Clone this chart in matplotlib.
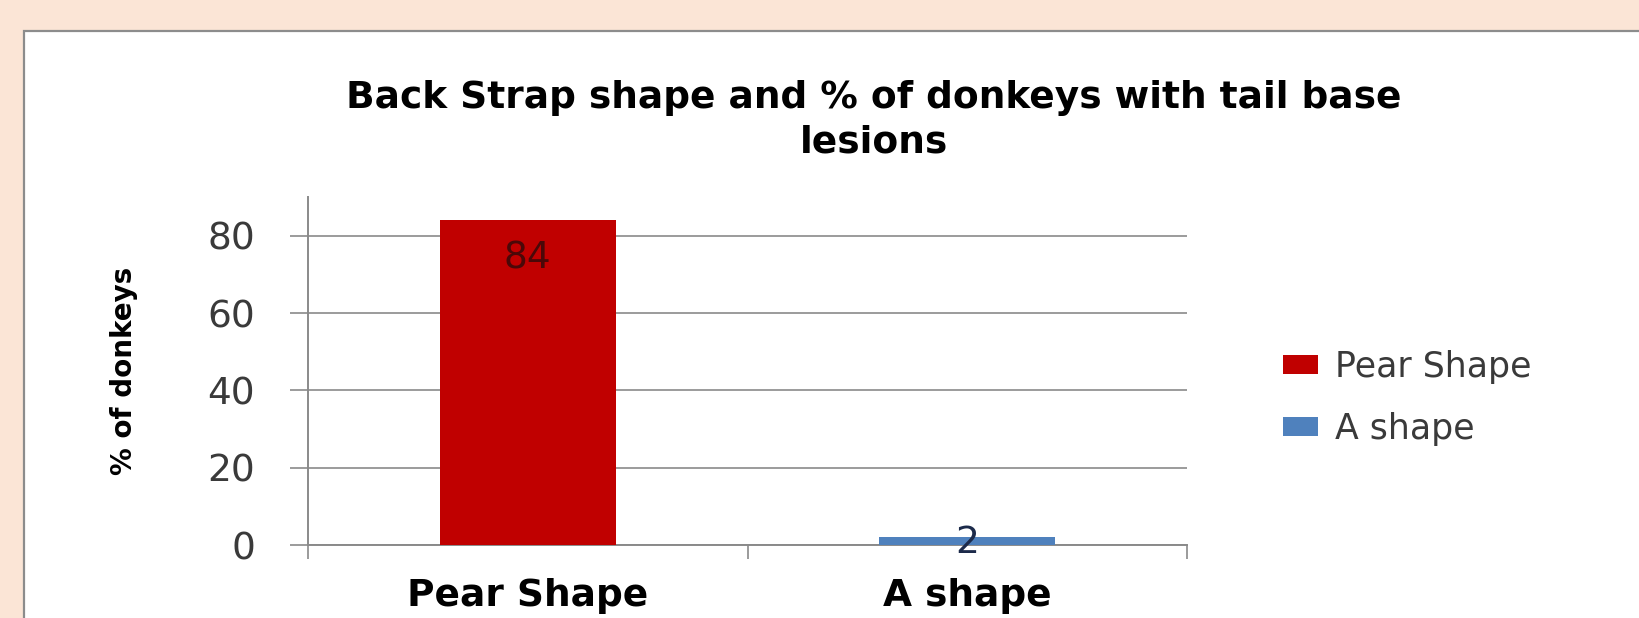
import numpy as np
import matplotlib
matplotlib.use("Agg")
import matplotlib.pyplot as plt
from matplotlib.patches import Rectangle

# data
categories = ["Pear Shape", "A shape"]
values = [84, 2]
bar_colors = ["#C00000", "#4F81BD"]
label_colors = ["#4a0808", "#1c2a4a"]
yticks = [0, 20, 40, 60, 80]

plt.rcParams['font.family'] = ['DejaVu Sans']

fig = plt.figure(figsize=(16.4, 6.18), dpi=100)
fig.patch.set_facecolor("#FBE5D6")

# white chart panel with grey frame (runs off right and bottom edges)
panel = Rectangle((24 / 1640, -0.1), 1.2, 1.1 - 31 / 618, transform=fig.transFigure,
                  facecolor="white", edgecolor="#8c8c8c", lw=1.6, zorder=-5)
fig.patches.append(panel)

ax = fig.add_axes([308 / 1640, 1 - 545 / 618, (1187 - 308) / 1640, (545 - 197) / 618])
ax.set_facecolor("none")
ax.set_zorder(2)

x = np.arange(len(categories))
bars = ax.bar(x, values, width=0.4, color=bar_colors, label=categories, zorder=3)

# data labels, inside the top end of each bar
for xi, v, c in zip(x, values, label_colors):
    ax.text(xi, max(v - 10, 0.6), str(v), ha="center", va="center",
            fontsize=27, color=c, zorder=4)

ax.set_ylim(0, 90)
ax.set_xlim(-0.5, len(categories) - 0.5)
ax.set_yticks(yticks)
ax.yaxis.grid(True, color="#8a8a8a", lw=1.2, zorder=1)
ax.set_axisbelow(True)
ax.tick_params(axis="y", length=13, width=1.2, color="#8a8a8a",
               labelsize=27, labelcolor="#3a3a3a", pad=25)

ax.set_xticks(x)
ax.set_xticklabels(categories, fontsize=27, fontweight="bold")
ax.set_xticks(np.arange(-0.5, len(categories)), minor=True)
ax.tick_params(axis="x", which="major", length=0, pad=24)
ax.tick_params(axis="x", which="minor", length=10, width=1.2, color="#8a8a8a")

for s in ["top", "right"]:
    ax.spines[s].set_visible(False)
for s in ["left", "bottom"]:
    ax.spines[s].set_color("#8a8a8a")
    ax.spines[s].set_linewidth(1.4)

ax.set_ylabel("% of donkeys", fontsize=20, fontweight="bold")
ax.yaxis.set_label_coords(-0.193, 0.5)

fig.text(874 / 1640, 1 - 120 / 618,
         "Back Strap shape and % of donkeys with tail base\nlesions",
         ha="center", va="center", fontsize=27, fontweight="bold",
         linespacing=1.3)

fig.legend(handles=list(bars), labels=categories, loc="center left",
           bbox_to_anchor=(1283 / 1640, 1 - 398 / 618), frameon=False,
           fontsize=25, handlelength=1.0, handleheight=0.45, handletextpad=0.5,
           labelspacing=0.8, borderpad=0, borderaxespad=0, labelcolor="#3a3a3a")

fig.savefig("out.png", dpi=100, facecolor=fig.get_facecolor())
